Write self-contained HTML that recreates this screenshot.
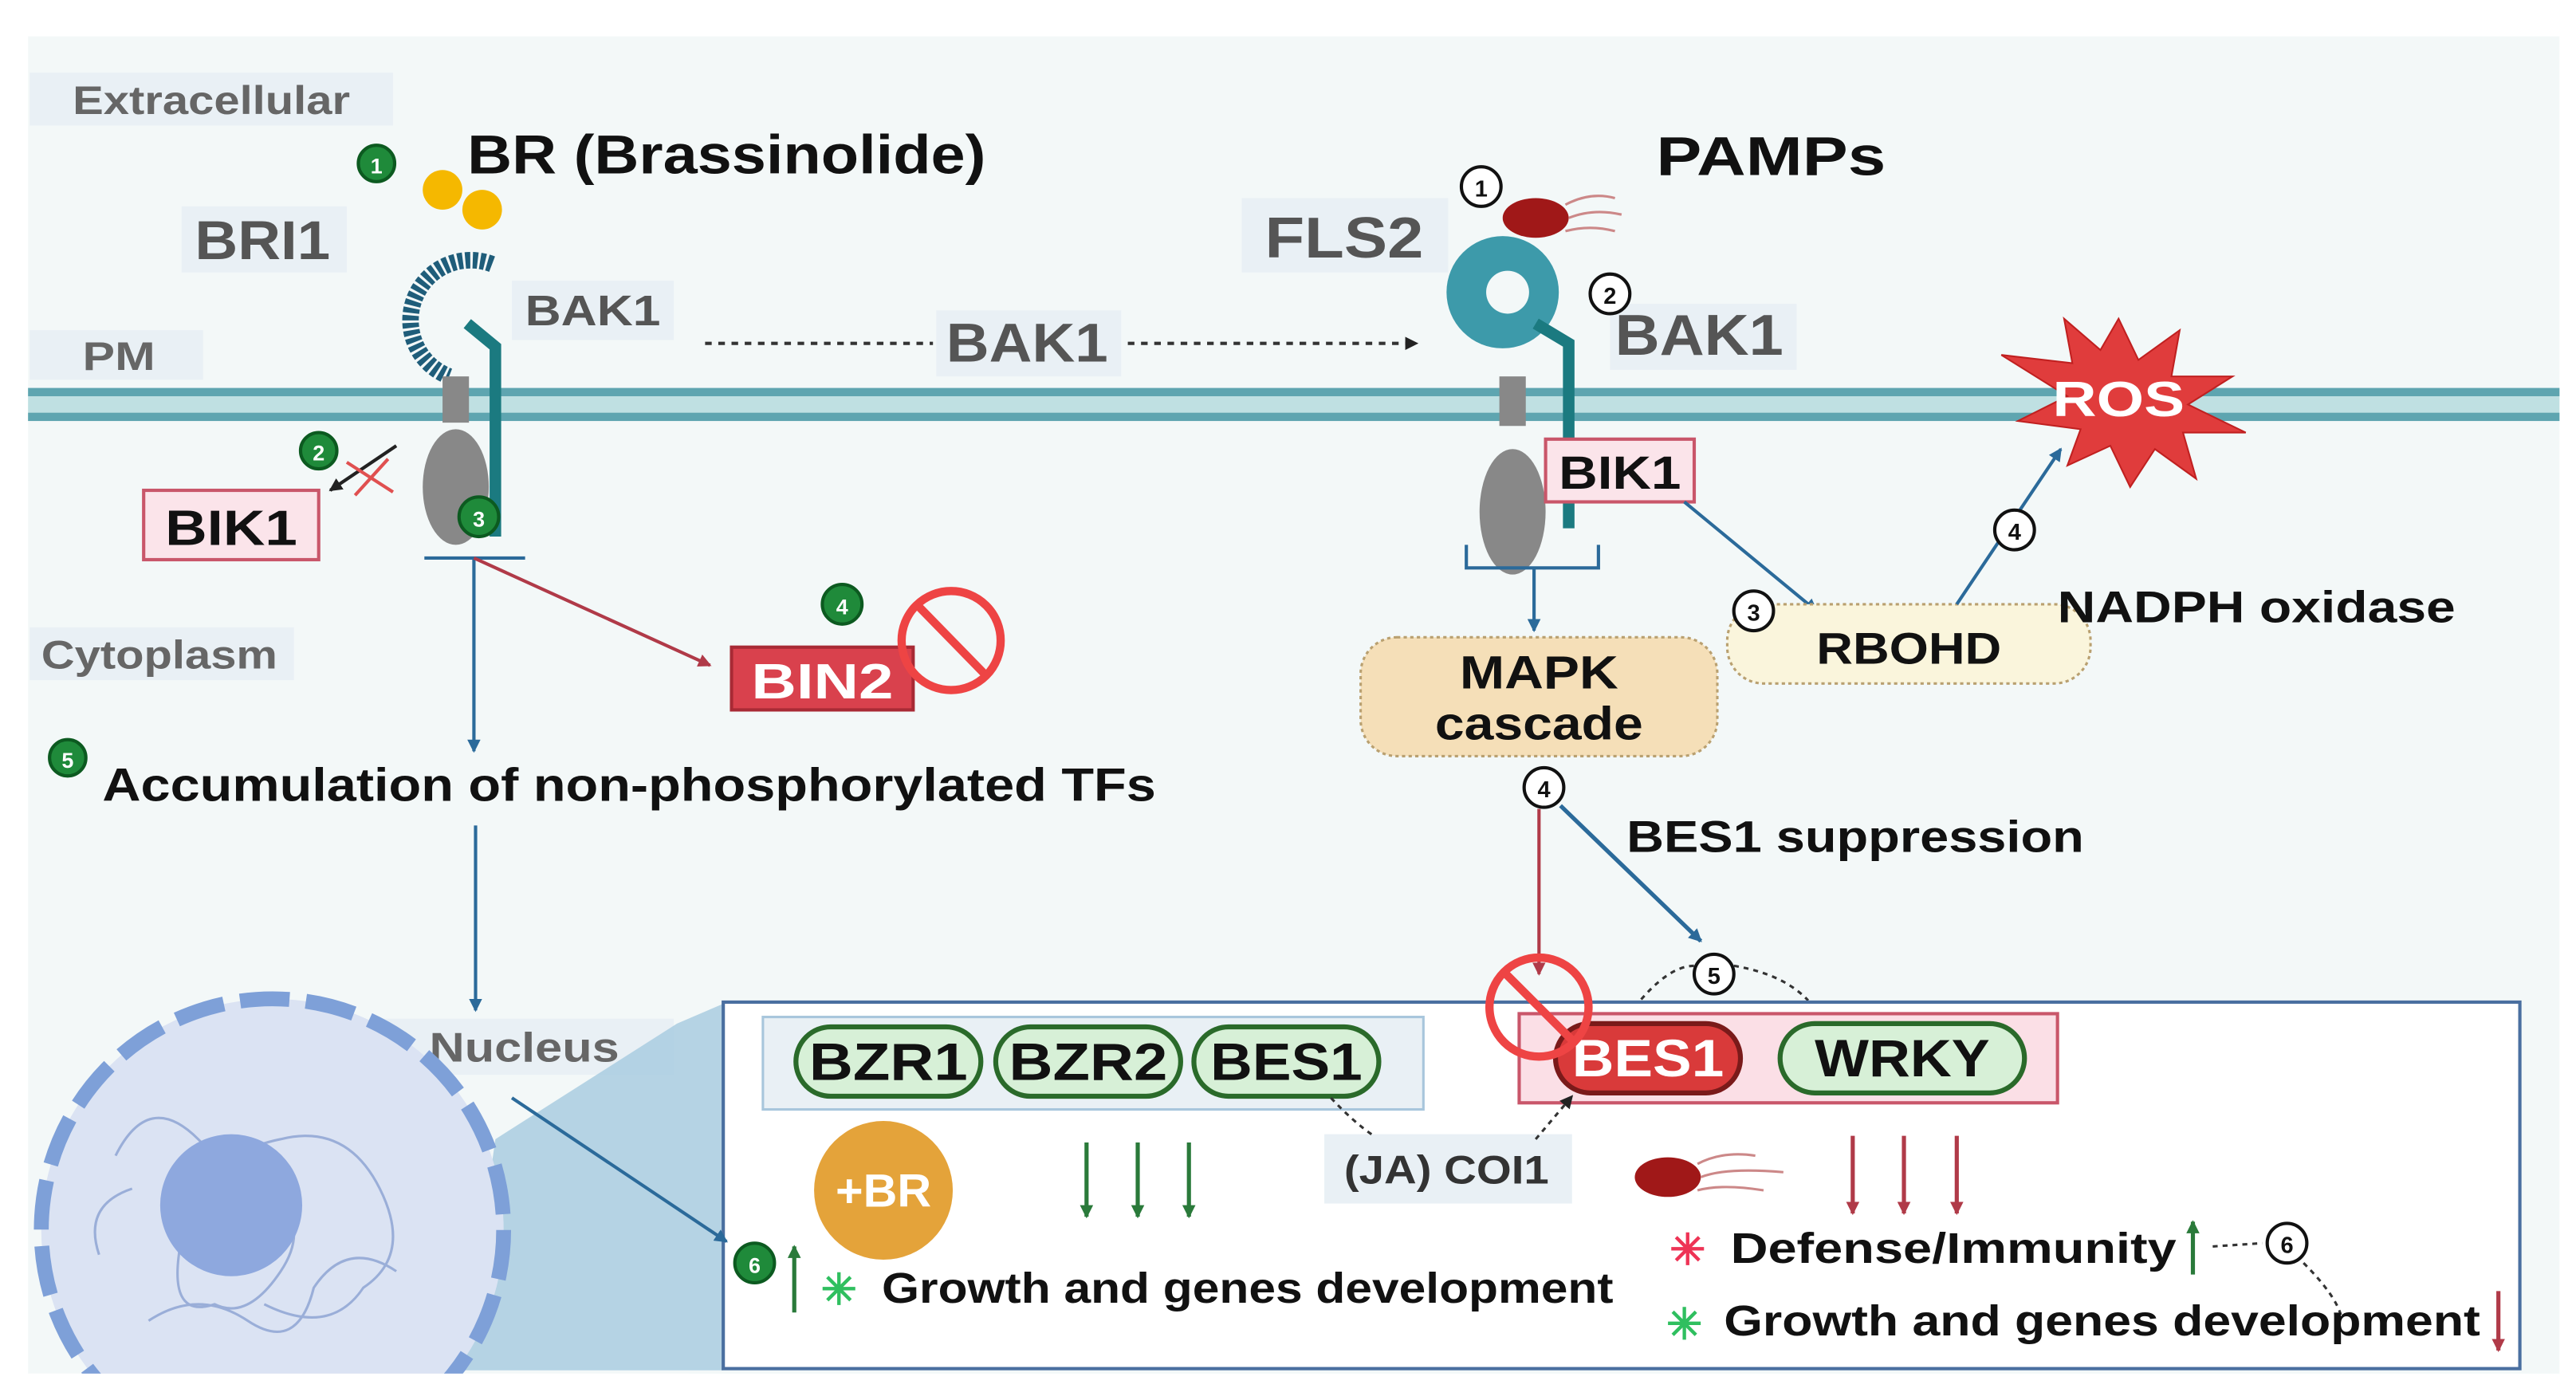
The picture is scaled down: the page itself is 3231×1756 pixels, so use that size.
<!DOCTYPE html>
<html><head><meta charset="utf-8"><style>
html,body{margin:0;padding:0;background:#fff}
svg{display:block}
text{font-family:"Liberation Sans",sans-serif;font-weight:bold}
</style></head><body>
<svg width="3231" height="1756" viewBox="0 0 1560 848" preserveAspectRatio="none" xmlns="http://www.w3.org/2000/svg">
<defs>
<marker id="ab" markerWidth="8" markerHeight="8" refX="7" refY="4" orient="auto" markerUnits="userSpaceOnUse"><path d="M0,0 L8,4 L0,8z" fill="#2b6a9a"/></marker>
<marker id="ar" markerWidth="8" markerHeight="8" refX="7" refY="4" orient="auto" markerUnits="userSpaceOnUse"><path d="M0,0 L8,4 L0,8z" fill="#b03a48"/></marker>
<marker id="ak" markerWidth="8" markerHeight="8" refX="7" refY="4" orient="auto" markerUnits="userSpaceOnUse"><path d="M0,0 L8,4 L0,8z" fill="#222"/></marker>
<marker id="ag" markerWidth="8" markerHeight="8" refX="7" refY="4" orient="auto" markerUnits="userSpaceOnUse"><path d="M0,0 L8,4 L0,8z" fill="#2a7a3a"/></marker>
</defs>
<rect x="0" y="0" width="1560" height="848" fill="#fff"/>
<rect x="17" y="22" width="1533" height="810" fill="#f3f8f8"/>
<rect x="18" y="44" width="220" height="32" fill="#e9f0f5"/>
<text x="44" y="69" font-size="24" fill="#666" textLength="168" lengthAdjust="spacingAndGlyphs">Extracellular</text>
<rect x="18" y="200" width="105" height="30" fill="#e9f0f5"/>
<text x="50" y="224" font-size="24" fill="#666" textLength="44" lengthAdjust="spacingAndGlyphs">PM</text>
<rect x="18" y="380" width="160" height="32" fill="#e9f0f5"/>
<text x="25" y="405" font-size="24" fill="#666" textLength="143" lengthAdjust="spacingAndGlyphs">Cytoplasm</text>
<rect x="17" y="235" width="1533" height="20" fill="#bfe0e2"/>
<rect x="17" y="235" width="1533" height="5" fill="#5ea5b0"/>
<rect x="17" y="250" width="1533" height="5" fill="#5ea5b0"/>
<circle cx="228" cy="99" r="11" fill="#1f8a3a" stroke="#0c5a20" stroke-width="2"/><text x="228" y="105" font-size="13" fill="#fff" text-anchor="middle">1</text>
<circle cx="268" cy="115" r="12" fill="#f5b800"/><circle cx="292" cy="127" r="12" fill="#f5b800"/>
<text x="283" y="105" font-size="33" fill="#111" textLength="314" lengthAdjust="spacingAndGlyphs">BR (Brassinolide)</text>
<rect x="110" y="125" width="100" height="40" fill="#e9f0f5"/>
<text x="118" y="157" font-size="33" fill="#555" textLength="82" lengthAdjust="spacingAndGlyphs">BRI1</text>
<path d="M298,160 A34,34 0 1 0 272,228" fill="none" stroke="#1f5d7a" stroke-width="10" stroke-dasharray="3,1.5"/>
<rect x="310" y="170" width="98" height="36" fill="#e9f0f5"/>
<text x="318" y="197" font-size="26" fill="#555" textLength="82" lengthAdjust="spacingAndGlyphs">BAK1</text>
<path d="M283,196 L300,210 L300,325" fill="none" stroke="#1b7a80" stroke-width="7"/>
<rect x="268" y="228" width="16" height="28" fill="#888"/>
<ellipse cx="276" cy="295" rx="20" ry="35" fill="#888"/>
<circle cx="290" cy="313" r="12" fill="#1f8a3a" stroke="#0c5a20" stroke-width="2"/><text x="290" y="319" font-size="13" fill="#fff" text-anchor="middle">3</text>
<circle cx="193" cy="273" r="11" fill="#1f8a3a" stroke="#0c5a20" stroke-width="2"/><text x="193" y="279" font-size="13" fill="#fff" text-anchor="middle">2</text>
<line x1="240" y1="270" x2="200" y2="297" stroke="#222" stroke-width="2" marker-end="url(#ak)"/>
<path d="M210,280 L238,298 M235,278 L215,300" stroke="#e05050" stroke-width="2"/>
<rect x="87" y="297" width="106" height="42" fill="#fbe4ea" stroke="#c9566a" stroke-width="2"/>
<text x="100" y="330" font-size="30" fill="#111" textLength="80" lengthAdjust="spacingAndGlyphs">BIK1</text>
<line x1="257" y1="338" x2="318" y2="338" stroke="#2b6a9a" stroke-width="2"/>
<line x1="287" y1="338" x2="287" y2="455" stroke="#2b6a9a" stroke-width="2" marker-end="url(#ab)"/>
<line x1="287" y1="338" x2="430" y2="403" stroke="#b03a48" stroke-width="2" marker-end="url(#ar)"/>
<circle cx="510" cy="366" r="12" fill="#1f8a3a" stroke="#0c5a20" stroke-width="2"/><text x="510" y="372" font-size="13" fill="#fff" text-anchor="middle">4</text>
<rect x="443" y="392" width="110" height="38" fill="#d9414d" stroke="#a82a35" stroke-width="2"/>
<text x="498" y="423" font-size="30" fill="#fff" text-anchor="middle" textLength="86" lengthAdjust="spacingAndGlyphs">BIN2</text>
<circle cx="576" cy="388" r="30" fill="none" stroke="#ee4444" stroke-width="5"/><line x1="556" y1="367" x2="597" y2="409" stroke="#ee4444" stroke-width="5"/>
<circle cx="41" cy="459" r="11" fill="#1f8a3a" stroke="#0c5a20" stroke-width="2"/><text x="41" y="465" font-size="13" fill="#fff" text-anchor="middle">5</text>
<text x="62" y="485" font-size="28" fill="#111" textLength="638" lengthAdjust="spacingAndGlyphs">Accumulation of non-phosphorylated TFs</text>
<line x1="288" y1="500" x2="288" y2="612" stroke="#2b6a9a" stroke-width="2" marker-end="url(#ab)"/>
<line x1="427" y1="208" x2="565" y2="208" stroke="#333" stroke-width="2" stroke-dasharray="4,4"/>
<rect x="567" y="188" width="112" height="40" fill="#e9f0f5"/>
<text x="573" y="219" font-size="33" fill="#555" textLength="98" lengthAdjust="spacingAndGlyphs">BAK1</text>
<line x1="683" y1="208" x2="858" y2="208" stroke="#333" stroke-width="2" stroke-dasharray="4,4" marker-end="url(#ak)"/>
<rect x="752" y="120" width="125" height="45" fill="#e9f0f5"/>
<text x="766" y="156" font-size="35" fill="#555" textLength="96" lengthAdjust="spacingAndGlyphs">FLS2</text>
<circle cx="897" cy="113" r="12" fill="#fff" stroke="#111" stroke-width="2"/><text x="897" y="119" font-size="14" fill="#111" text-anchor="middle" font-weight="normal">1</text>
<ellipse cx="930" cy="132" rx="20" ry="12" fill="#a01818"/>
<path d="M948,124 q15,-8 30,-4 M950,132 q15,-6 32,-2 M948,140 q15,-4 30,0" stroke="#c88" stroke-width="1.5" fill="none"/>
<text x="1003" y="106" font-size="33" fill="#111" textLength="139" lengthAdjust="spacingAndGlyphs">PAMPs</text>
<circle cx="910" cy="177" r="34" fill="#3d9aaa"/><circle cx="913" cy="177" r="13" fill="#f3f8f8"/>
<rect x="975" y="184" width="113" height="40" fill="#e9f0f5"/>
<circle cx="975" cy="178" r="12" fill="#fff" stroke="#111" stroke-width="2"/><text x="975" y="184" font-size="14" fill="#111" text-anchor="middle" font-weight="normal">2</text>
<text x="978" y="215" font-size="35" fill="#555" textLength="102" lengthAdjust="spacingAndGlyphs">BAK1</text>
<path d="M930,196 L950,208 L950,320" fill="none" stroke="#1b7a80" stroke-width="7"/>
<rect x="908" y="228" width="16" height="30" fill="#888"/>
<ellipse cx="916" cy="310" rx="20" ry="38" fill="#888"/>
<rect x="936" y="266" width="90" height="38" fill="#fbe4ea" stroke="#c9566a" stroke-width="2"/>
<text x="944" y="296" font-size="28" fill="#111" textLength="74" lengthAdjust="spacingAndGlyphs">BIK1</text>
<path d="M888,330 L888,344 L968,344 L968,330" fill="none" stroke="#2b6a9a" stroke-width="2"/>
<line x1="929" y1="344" x2="929" y2="382" stroke="#2b6a9a" stroke-width="2" marker-end="url(#ab)"/>
<line x1="1020" y1="304" x2="1100" y2="370" stroke="#2b6a9a" stroke-width="2" marker-end="url(#ab)"/>
<rect x="824" y="386" width="216" height="72" rx="22" fill="#f5dfb8" stroke="#b9a070" stroke-width="1.5" stroke-dasharray="2,2"/>
<text x="932" y="417" font-size="28" fill="#111" text-anchor="middle" textLength="96" lengthAdjust="spacingAndGlyphs">MAPK</text>
<text x="932" y="448" font-size="28" fill="#111" text-anchor="middle" textLength="126" lengthAdjust="spacingAndGlyphs">cascade</text>
<rect x="1046" y="366" width="220" height="48" rx="22" fill="#faf5dc" stroke="#b9a070" stroke-width="1.5" stroke-dasharray="2,2"/>
<text x="1156" y="402" font-size="27" fill="#111" text-anchor="middle" textLength="112" lengthAdjust="spacingAndGlyphs">RBOHD</text>
<circle cx="1062" cy="370" r="12" fill="#fff" stroke="#111" stroke-width="2"/><text x="1062" y="376" font-size="14" fill="#111" text-anchor="middle" font-weight="normal">3</text>
<text x="1246" y="377" font-size="27" fill="#111" textLength="241" lengthAdjust="spacingAndGlyphs">NADPH oxidase</text>
<line x1="1185" y1="366" x2="1248" y2="272" stroke="#2b6a9a" stroke-width="2" marker-end="url(#ab)"/>
<circle cx="1220" cy="321" r="12" fill="#fff" stroke="#111" stroke-width="2"/><text x="1220" y="327" font-size="14" fill="#111" text-anchor="middle" font-weight="normal">4</text>
<polygon points="1283,193 1295,218 1320,200 1315,228 1352,228 1325,245 1360,262 1322,262 1330,290 1305,272 1290,295 1278,270 1252,282 1260,260 1222,255 1252,240 1212,215 1255,220 1250,193 1272,212" fill="#e03c3c" stroke="#c02020" stroke-width="1"/>
<text x="1283" y="252" font-size="30" fill="#fff" text-anchor="middle" textLength="80" lengthAdjust="spacingAndGlyphs">ROS</text>
<circle cx="935" cy="477" r="12" fill="#fff" stroke="#111" stroke-width="2"/><text x="935" y="483" font-size="14" fill="#111" text-anchor="middle" font-weight="normal">4</text>
<text x="985" y="516" font-size="27" fill="#111" textLength="277" lengthAdjust="spacingAndGlyphs">BES1 suppression</text>
<line x1="932" y1="490" x2="932" y2="590" stroke="#b03a48" stroke-width="2" marker-end="url(#ar)"/>
<line x1="945" y1="488" x2="1030" y2="570" stroke="#2b6a9a" stroke-width="2.5" marker-end="url(#ab)"/>
<circle cx="1038" cy="590" r="12" fill="#fff" stroke="#111" stroke-width="2"/><text x="1038" y="596" font-size="14" fill="#111" text-anchor="middle" font-weight="normal">5</text>
<path d="M990,610 Q1010,585 1026,585 M1050,585 Q1080,590 1095,606" fill="none" stroke="#333" stroke-width="1.5" stroke-dasharray="3,3"/>
<rect x="226" y="617" width="182" height="34" fill="#e9f0f5"/>
<text x="260" y="643" font-size="25" fill="#666" textLength="115" lengthAdjust="spacingAndGlyphs">Nucleus</text>
<polygon points="300,690 410,620 438,608 438,830 280,830" fill="#a9cde0" opacity="0.85"/>
<circle cx="165" cy="745" r="140" fill="#dbe3f3" stroke="#7ea0d8" stroke-width="9" stroke-dasharray="30,10"/>
<path d="M70,700 q20,-40 50,-10 t40,30 q30,20 10,50 t-40,20 q-30,10 -20,-40 t60,-60 q40,-10 60,30 t-10,60 q-20,30 -60,10 M90,800 q30,-20 60,0 t40,-20 q20,-30 50,-10 M60,760 q-10,-30 20,-40" fill="none" stroke="#9aaed8" stroke-width="1.5"/>
<circle cx="140" cy="730" r="43" fill="#8ea8de"/>
<rect x="17" y="832" width="400" height="16" fill="#fff"/>
<rect x="438" y="607" width="1088" height="222" fill="#fff" stroke="#4a6fa0" stroke-width="2"/>
<line x1="310" y1="665" x2="440" y2="752" stroke="#2b6a9a" stroke-width="2" marker-end="url(#ab)"/>
<rect x="462" y="616" width="400" height="56" fill="#e9f0f5" stroke="#a8c6dc" stroke-width="1.5"/>
<rect x="482" y="622" width="112" height="42" rx="21" fill="#d7f0d7" stroke="#2a6a2a" stroke-width="3"/>
<text x="538" y="654" font-size="32" fill="#111" text-anchor="middle" textLength="96" lengthAdjust="spacingAndGlyphs">BZR1</text>
<rect x="603" y="622" width="112" height="42" rx="21" fill="#d7f0d7" stroke="#2a6a2a" stroke-width="3"/>
<text x="659" y="654" font-size="32" fill="#111" text-anchor="middle" textLength="96" lengthAdjust="spacingAndGlyphs">BZR2</text>
<rect x="723" y="622" width="112" height="42" rx="21" fill="#d7f0d7" stroke="#2a6a2a" stroke-width="3"/>
<text x="779" y="654" font-size="32" fill="#111" text-anchor="middle" textLength="92" lengthAdjust="spacingAndGlyphs">BES1</text>
<rect x="920" y="614" width="326" height="54" fill="#fbdfe6" stroke="#c9566a" stroke-width="2"/>
<rect x="942" y="620" width="112" height="42" rx="21" fill="#d93a3a" stroke="#7a1a1a" stroke-width="3"/>
<text x="998" y="652" font-size="32" fill="#fff" text-anchor="middle" textLength="92" lengthAdjust="spacingAndGlyphs">BES1</text>
<rect x="1078" y="620" width="148" height="42" rx="21" fill="#d7f0d7" stroke="#2a6a2a" stroke-width="3"/>
<text x="1152" y="652" font-size="32" fill="#111" text-anchor="middle" textLength="106" lengthAdjust="spacingAndGlyphs">WRKY</text>
<circle cx="932" cy="610" r="30" fill="none" stroke="#ee4444" stroke-width="5"/><line x1="911" y1="589" x2="953" y2="631" stroke="#ee4444" stroke-width="5"/>
<rect x="802" y="687" width="150" height="42" fill="#e9f0f5"/>
<text x="876" y="717" font-size="24" fill="#333" text-anchor="middle" font-weight="normal" textLength="124" lengthAdjust="spacingAndGlyphs">(JA) COI1</text>
<path d="M806,665 Q820,680 832,688" fill="none" stroke="#333" stroke-width="1.5" stroke-dasharray="3,3"/>
<path d="M930,690 L952,664" fill="none" stroke="#333" stroke-width="1.5" stroke-dasharray="3,3" marker-end="url(#ak)"/>
<circle cx="535" cy="721" r="42" fill="#e4a33a"/>
<text x="535" y="731" font-size="28" fill="#fff" text-anchor="middle" textLength="58" lengthAdjust="spacingAndGlyphs">+BR</text>
<line x1="658" y1="692" x2="658" y2="737" stroke="#2a7a3a" stroke-width="2.5" marker-end="url(#ag)"/>
<line x1="689" y1="692" x2="689" y2="737" stroke="#2a7a3a" stroke-width="2.5" marker-end="url(#ag)"/>
<line x1="720" y1="692" x2="720" y2="737" stroke="#2a7a3a" stroke-width="2.5" marker-end="url(#ag)"/>
<ellipse cx="1010" cy="713" rx="20" ry="12" fill="#a01818"/>
<path d="M1028,705 q15,-8 35,-5 M1030,713 q15,-6 50,-3 M1028,721 q15,-4 40,0" stroke="#c88" stroke-width="1.5" fill="none"/>
<line x1="1122" y1="688" x2="1122" y2="735" stroke="#b03a48" stroke-width="2.5" marker-end="url(#ar)"/>
<line x1="1153" y1="688" x2="1153" y2="735" stroke="#b03a48" stroke-width="2.5" marker-end="url(#ar)"/>
<line x1="1185" y1="688" x2="1185" y2="735" stroke="#b03a48" stroke-width="2.5" marker-end="url(#ar)"/>
<circle cx="457" cy="765" r="12" fill="#1f8a3a" stroke="#0c5a20" stroke-width="2"/><text x="457" y="771" font-size="13" fill="#fff" text-anchor="middle">6</text>
<line x1="481" y1="795" x2="481" y2="755" stroke="#2a7a3a" stroke-width="2.5" marker-end="url(#ag)"/>
<text x="508" y="790" font-size="26" fill="#2fbf5f" text-anchor="middle" font-weight="normal">✳</text>
<text x="534" y="789" font-size="26" fill="#111" textLength="443" lengthAdjust="spacingAndGlyphs">Growth and genes development</text>
<text x="1022" y="766" font-size="26" fill="#ee3355" text-anchor="middle" font-weight="normal">✳</text>
<text x="1048" y="765" font-size="26" fill="#111" textLength="270" lengthAdjust="spacingAndGlyphs">Defense/Immunity</text>
<line x1="1328" y1="772" x2="1328" y2="740" stroke="#2a7a3a" stroke-width="2.5" marker-end="url(#ag)"/>
<circle cx="1385" cy="753" r="12" fill="#fff" stroke="#111" stroke-width="2"/><text x="1385" y="759" font-size="14" fill="#111" text-anchor="middle" font-weight="normal">6</text>
<path d="M1340,755 L1370,753 M1395,765 Q1415,785 1418,798" fill="none" stroke="#333" stroke-width="1.5" stroke-dasharray="3,3"/>
<text x="1020" y="811" font-size="26" fill="#2fbf5f" text-anchor="middle" font-weight="normal">✳</text>
<text x="1044" y="809" font-size="26" fill="#111" textLength="458" lengthAdjust="spacingAndGlyphs">Growth and genes development</text>
<line x1="1513" y1="782" x2="1513" y2="818" stroke="#b03a48" stroke-width="2.5" marker-end="url(#ar)"/>
</svg>
</body></html>
